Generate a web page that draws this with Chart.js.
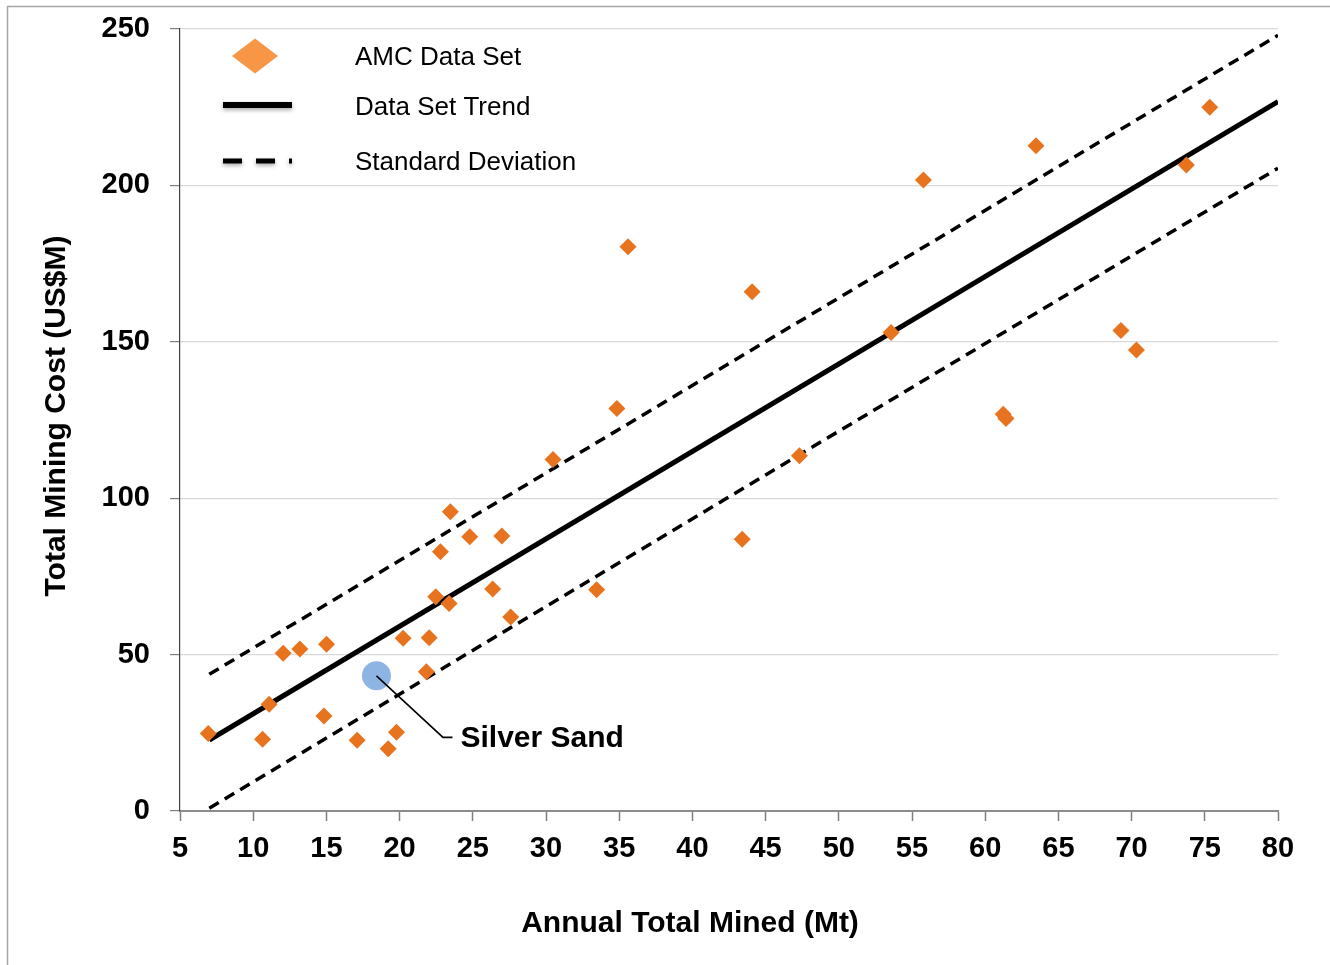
<!DOCTYPE html>
<html>
<head>
<meta charset="utf-8">
<title>Total Mining Cost vs Annual Total Mined</title>
<script src="https://cdn.jsdelivr.net/npm/chart.js@4.4.1/dist/chart.umd.min.js"></script>
<style>
  html, body { margin: 0; padding: 0; background: #ffffff; }
  #wrap { width: 1330px; height: 965px; position: relative; }
  canvas { display: block; }
</style>
</head>
<body>
<div id="wrap"><canvas id="chart" width="1330" height="965"></canvas></div>
<script>
const FONT = '"Liberation Sans", Arial, Helvetica, sans-serif';

// AMC benchmark operations: annual total mined (Mt) and total mining cost (US$M)
const amcMined = [6.93, 10.64, 11.09, 12.05, 13.19, 15.01, 14.83, 17.10, 19.22, 19.79,
                  20.24, 22.02, 21.83, 22.47, 23.38, 22.79, 23.47, 24.79, 26.36, 26.98,
                  27.59, 30.48, 33.46, 34.84, 35.60, 43.40, 44.08, 47.31, 53.57, 55.78,
                  61.23, 61.42, 63.47, 69.27, 70.33, 73.74, 75.34];
const amcCost  = [24.8, 22.9, 34.1, 50.4, 51.8, 53.3, 30.4, 22.6, 19.9, 25.2,
                  55.2, 55.4, 44.5, 68.5, 66.3, 82.9, 95.7, 87.7, 71.0, 87.9,
                  62.0, 112.4, 70.7, 128.7, 180.4, 86.9, 166.0, 113.6, 153.0, 201.7,
                  126.8, 125.5, 212.7, 153.6, 147.4, 206.5, 225.0];

// Silver Sand project
const silverSandLabel = 'Silver Sand';
const silverSandMined = 18.42;
const silverSandCost  = 43.2;

// Data set trend and one standard deviation either side (end points)
const trendX   = [7, 80];
const trendY   = [22.7, 226.8];
const sdUpperY = [43.7, 248.0];
const sdLowerY = [0.9, 205.5];

// Axis ticks and titles
const xTicks = [5, 10, 15, 20, 25, 30, 35, 40, 45, 50, 55, 60, 65, 70, 75, 80];
const yTicks = [0, 50, 100, 150, 200, 250];
const xTitle = 'Annual Total Mined (Mt)';
const yTitle = 'Total Mining Cost (US$M)';

// Legend entries
const legendLabels = ['AMC Data Set', 'Data Set Trend', 'Standard Deviation'];

const toPoints = (xs, ys) => xs.map((x, i) => ({ x: x, y: ys[i] }));

const AMC_ORANGE = '#E8731E';
const LEGEND_ORANGE = '#F79646';
const SILVER_BLUE = '#8DB4E2';

const decorations = {
  id: 'decorations',
  beforeDraw(chart) {
    const ctx = chart.ctx;
    ctx.save();
    ctx.strokeStyle = '#A6A6A6';
    ctx.lineWidth = 1.5;
    ctx.beginPath();
    ctx.moveTo(7.5, chart.height);
    ctx.lineTo(7.5, 6.5);
    ctx.lineTo(chart.width, 6.5);
    ctx.stroke();
    ctx.restore();
  },
  afterDatasetsDraw(chart) {
    // leader line and label for Silver Sand
    const ctx = chart.ctx;
    const xs = chart.scales.x, ys = chart.scales.y;
    const px = xs.getPixelForValue(silverSandMined);
    const py = ys.getPixelForValue(silverSandCost);
    ctx.save();
    ctx.strokeStyle = '#000000';
    ctx.lineWidth = 1.6;
    ctx.beginPath();
    ctx.moveTo(px, py);
    ctx.lineTo(px + 66.5, py + 61.5);
    ctx.lineTo(px + 76, py + 61.5);
    ctx.stroke();
    ctx.fillStyle = '#000000';
    ctx.font = 'bold 30px ' + FONT;
    ctx.textAlign = 'left';
    ctx.textBaseline = 'middle';
    ctx.fillText(silverSandLabel, px + 84, py + 63);
    ctx.restore();
  },
  afterDraw(chart) {
    const ctx = chart.ctx;
    const area = chart.chartArea;
    ctx.save();

    // legend
    const symL = area.left + 43, symR = area.left + 112;
    const textX = area.left + 175;
    const rowY = [area.top + 27, area.top + 77, area.top + 132];

    ctx.fillStyle = LEGEND_ORANGE;
    const dcx = symL + 32;
    ctx.beginPath();
    ctx.moveTo(dcx - 23, rowY[0]);
    ctx.lineTo(dcx, rowY[0] - 17.5);
    ctx.lineTo(dcx + 23, rowY[0]);
    ctx.lineTo(dcx, rowY[0] + 17.5);
    ctx.closePath();
    ctx.fill();

    ctx.save();
    ctx.shadowColor = 'rgba(0,0,0,0.35)';
    ctx.shadowBlur = 4;
    ctx.shadowOffsetY = 2;
    ctx.strokeStyle = '#000000';
    ctx.lineWidth = 6;
    ctx.beginPath();
    ctx.moveTo(symL, rowY[1] - 1);
    ctx.lineTo(symR, rowY[1] - 1);
    ctx.stroke();
    ctx.lineWidth = 5;
    ctx.setLineDash([19, 14]);
    ctx.beginPath();
    ctx.moveTo(symL, rowY[2]);
    ctx.lineTo(symR, rowY[2]);
    ctx.stroke();
    ctx.restore();

    ctx.fillStyle = '#000000';
    ctx.font = '26px ' + FONT;
    ctx.textAlign = 'left';
    ctx.textBaseline = 'middle';
    legendLabels.forEach((t, i) => ctx.fillText(t, textX, rowY[i] + 1.5));

    // axis titles
    ctx.font = 'bold 30px ' + FONT;
    ctx.textAlign = 'center';
    ctx.textBaseline = 'middle';
    ctx.fillText(xTitle, 690, 924);
    ctx.translate(57, 416);
    ctx.rotate(-Math.PI / 2);
    ctx.fillText(yTitle, 0, 0);
    ctx.restore();
  }
};

new Chart(document.getElementById('chart'), {
  type: 'scatter',
  data: {
    datasets: [
      {
        label: legendLabels[0],
        data: toPoints(amcMined, amcCost),
        pointStyle: 'rectRot',
        pointRadius: 8.5,
        pointBackgroundColor: AMC_ORANGE,
        pointBorderWidth: 0,
        order: 0
      },
      {
        label: silverSandLabel,
        data: [{ x: silverSandMined, y: silverSandCost }],
        pointStyle: 'circle',
        pointRadius: 14.5,
        pointBackgroundColor: SILVER_BLUE,
        pointBorderWidth: 0,
        order: 1
      },
      {
        type: 'line',
        label: legendLabels[1],
        data: toPoints(trendX, trendY),
        showLine: true,
        borderColor: '#000000',
        borderWidth: 5,
        pointRadius: 0,
        fill: false,
        tension: 0,
        order: 2
      },
      {
        type: 'line',
        label: legendLabels[2],
        data: toPoints(trendX, sdUpperY),
        showLine: true,
        borderColor: '#000000',
        borderWidth: 3.5,
        borderDash: [11, 7],
        pointRadius: 0,
        fill: false,
        tension: 0,
        order: 3
      },
      {
        type: 'line',
        label: legendLabels[2],
        data: toPoints(trendX, sdLowerY),
        showLine: true,
        borderColor: '#000000',
        borderWidth: 3.5,
        borderDash: [11, 7],
        pointRadius: 0,
        fill: false,
        tension: 0,
        order: 4
      }
    ]
  },
  options: {
    responsive: false,
    animation: false,
    devicePixelRatio: 1,
    layout: { padding: { top: 29, right: 52, bottom: 0, left: 0 } },
    plugins: {
      legend: { display: false },
      tooltip: { enabled: false },
      title: { display: false }
    },
    scales: {
      x: {
        type: 'linear',
        min: xTicks[0],
        max: xTicks[xTicks.length - 1],
        afterBuildTicks: (s) => { s.ticks = xTicks.map(v => ({ value: v })); },
        afterFit: (s) => {
          s.height = 154;
          s.paddingLeft = 0; s.paddingRight = 0;
          s.paddingTop = 0; s.paddingBottom = 0;
        },
        grid: {
          drawOnChartArea: false,
          drawTicks: true,
          tickLength: 10,
          tickColor: '#7F7F7F',
          tickWidth: 1.5
        },
        border: { display: true, color: '#8C8C8C', width: 2 },
        ticks: {
          color: '#000000',
          padding: 11,
          maxRotation: 0,
          autoSkip: false,
          font: { family: FONT, size: 29, weight: 'bold' }
        }
      },
      y: {
        type: 'linear',
        min: yTicks[0],
        max: yTicks[yTicks.length - 1],
        afterBuildTicks: (s) => { s.ticks = yTicks.map(v => ({ value: v })); },
        afterFit: (s) => {
          s.width = 180;
          s.paddingTop = 0; s.paddingBottom = 0;
          s.paddingLeft = 0; s.paddingRight = 0;
        },
        grid: {
          color: '#D9D9D9',
          lineWidth: 1.2,
          drawTicks: true,
          tickLength: 10,
          tickColor: '#7F7F7F',
          tickWidth: 1.2
        },
        border: { display: true, color: '#404040', width: 1.2 },
        ticks: {
          color: '#000000',
          padding: 20,
          font: { family: FONT, size: 29, weight: 'bold' }
        }
      }
    }
  },
  plugins: [decorations]
});
</script>
</body>
</html>
